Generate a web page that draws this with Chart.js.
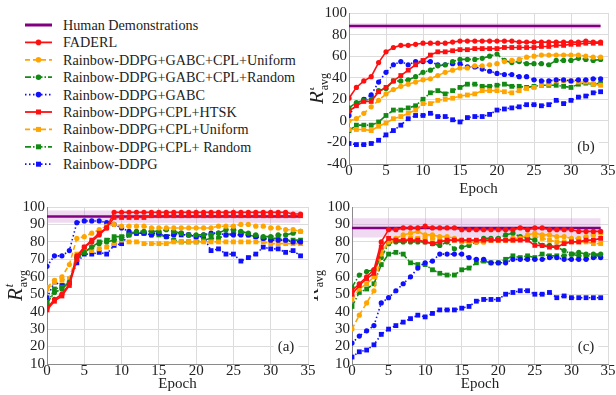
<!DOCTYPE html>
<html>
<head>
<meta charset="utf-8">
<script src="https://cdn.jsdelivr.net/npm/chart.js@4.4.0/dist/chart.umd.min.js"></script>
<style>
body { margin: 0; background: #fff; }
#wrap { position: relative; width: 616px; height: 395px; overflow: hidden; background: #fff; }
canvas, svg { position: absolute; }
#legend text { font-family: 'Liberation Serif', serif; font-size: 14.2px; fill: #222; }
</style>
</head>
<body>
<div id="wrap">
<svg id="legend" width="305" height="185" style="left:0;top:0"></svg>
<canvas id="chartA" width="318" height="199" style="left:0;top:196px"></canvas>
<canvas id="chartC" width="302" height="199" style="left:314px;top:196px"></canvas>
<canvas id="chartB" width="306" height="200" style="left:310px;top:0"></canvas>
</div>
<script>
// epochs 0..34
var epochs = [];
for (let i = 0; i <= 34; i++) epochs.push(i);

var names = ['FADERL', 'Rainbow-DDPG+GABC+CPL+Uniform', 'Rainbow-DDPG+GABC+CPL+Random', 'Rainbow-DDPG+GABC',
    'Rainbow-DDPG+CPL+HTSK', 'Rainbow-DDPG+CPL+Uniform', 'Rainbow-DDPG+CPL+ Random', 'Rainbow-DDPG'];
var humanName = 'Human Demonstrations';

// (a)
var A_FADERL   = [42,47,50,56,72,77,80,84,88,97,97,97,97,97,97,97,97,97,97,97,97,97,97,97,97,97,97,97,97,97,97,97,97,96,96];
var A_GABC_UNI = [54,58,60,67,82,83,85,87,89,90,89,89,89,89,88,88,88,88,88,88,88,88,88,89,89,89,90,90,89,89,88,88,87,87,86];
var A_GABC_RND = [45,51,53,57,71,74,77,79,80,81,82,84,86,86,86,86,87,86,85,84,84,84,84,85,87,87,86,85,84,83,83,84,84,85,86];
var A_GABC     = [66,72,72,75,91,92,92,92,91,90,88,86,85,85,84,85,83,84,85,84,83,84,85,85,84,84,84,84,83,82,81,81,81,80,80];
var A_HTSK     = [41,46,49,55,70,77,81,85,88,94,94,94,94,94,95,95,95,95,95,95,95,95,95,95,95,95,95,95,95,95,95,95,95,95,95];
var A_CPL_UNI  = [53,57,58,59,73,75,75,76,77,79,81,80,80,79,79,79,79,80,80,80,80,80,80,80,80,80,80,80,80,80,79,79,79,79,79];
var A_CPL_RND  = [44,53,54,57,70,74,77,80,81,83,83,85,85,85,84,84,83,81,80,80,80,81,82,82,84,85,85,84,83,82,82,82,81,81,81];
var A_DDPG     = [48,57,55,57,68,73,73,74,73,78,79,84,85,85,85,85,83,85,84,84,83,83,75,76,73,73,69,71,73,77,76,76,74,75,72];
var A_HUMAN = [91, 94.5, 98]; // low, mean, high

// (b)
var B_FADERL   = [21,31,37,41,54,64,68,70,70,71,72,72,72,72,73,74,74,74,74,74,74,74,74,73,73,73,73,73,73,73,73,73,74,73,73];
var B_GABC_UNI = [0,2,7,13,19,25,29,32,34,36,38,39,42,45,47,49,49,51,51,52,53,55,56,57,59,60,61,61,61,61,61,61,60,59,59];
var B_GABC_RND = [12,17,19,20,28,30,37,37,38,41,45,47,51,52,55,57,57,57,58,60,62,56,54,55,53,53,53,52,56,56,56,58,57,56,57];
var B_GABC     = [5,16,20,24,36,45,52,55,52,55,55,55,52,52,53,53,50,50,48,46,44,43,43,41,41,38,37,37,38,38,37,38,38,39,39];
var B_HTSK     = [9,14,18,18,27,31,37,42,47,52,56,61,64,64,65,66,66,67,67,67,67,68,68,68,68,68,69,69,70,70,71,71,72,72,72];
var B_CPL_UNI  = [-8,-8,-8,-9,-5,-2,2,4,7,10,16,16,19,20,21,23,24,25,28,28,28,27,26,28,30,31,33,34,37,37,37,36,36,34,33];
var B_CPL_RND  = [-9,-4,-4,-4,-1,5,10,10,12,14,20,26,28,25,28,31,34,34,32,32,33,34,32,32,31,32,33,33,33,32,31,34,35,34,35];
var B_DDPG     = [-21,-22,-22,-21,-18,-13,-9,-4,2,5,5,7,4,4,1,-1,3,4,4,6,10,11,12,13,15,15,14,15,19,16,19,22,23,26,27];
var B_HUMAN = [85.5, 88, 90.5];

// (c)
var C_FADERL   = [52,56,60,64,80,87,87,88,88,88,89,88,88,88,88,87,87,87,87,87,87,87,87,88,87,88,88,87,87,87,87,86,86,86,86];
var C_GABC_UNI = [30,38,45,52,73,80,82,84,85,86,84,84,83,83,82,81,80,80,80,81,81,81,82,82,84,85,84,84,83,83,82,82,83,84,85];
var C_GABC_RND = [54,61,63,64,71,79,80,80,80,80,80,79,78,80,76,77,78,80,82,82,82,84,85,83,82,81,78,78,77,75,73,74,73,73,73];
var C_GABC     = [22,26,29,32,45,48,52,56,60,65,68,69,73,73,73,73,71,70,70,68,68,68,70,70,70,70,70,71,71,70,70,70,70,71,71];
var C_HTSK     = [50,55,59,62,77,82,81,81,81,81,80,79,80,81,81,81,81,81,81,81,81,81,81,81,81,78,78,77,77,79,80,80,81,81,82];
var C_CPL_UNI  = [47,53,56,60,75,79,81,81,82,82,82,82,81,81,81,80,80,80,80,81,81,81,81,82,82,83,82,81,80,80,80,80,80,79,79];
var C_CPL_RND  = [43,51,53,56,67,73,74,73,68,67,67,64,62,61,61,64,65,68,69,68,68,70,72,71,72,71,73,72,72,72,73,72,72,72,72];
var C_DDPG     = [14,17,18,21,27,30,32,34,36,38,37,39,41,41,41,42,43,46,47,47,47,50,51,52,52,50,50,51,48,49,48,48,48,48,48];
var C_HUMAN = [82.5, 88, 93.5];

// styles, same order as names
var colors = ['#ff1010', '#ffa500', '#138a13', '#1010ff', '#ff1010', '#ffa500', '#138a13', '#1010ff'];
var dashes = [[], [5, 3], [6, 2, 1.5, 2], [1.5, 2.5], [], [5, 3], [6, 2, 1.5, 2], [1.5, 2.5]];
var markers = ['circle', 'circle', 'circle', 'circle', 'rect', 'rect', 'rect', 'rect'];
var FONT = "'Liberation Serif', serif";

function drawLegend() {
    var svg = document.getElementById('legend');
    var html = '';
    var rows = [humanName].concat(names);
    for (let i = 0; i < rows.length; i++) {
        let yc = 25 + 17.4 * i;
        if (i == 0) {
            html += `<line x1="25" x2="52" y1="${yc}" y2="${yc}" stroke="#800080" stroke-width="3"/>`;
        } else {
            let k = i - 1;
            html += `<line x1="25" x2="52" y1="${yc}" y2="${yc}" stroke="${colors[k]}" stroke-width="1.8" stroke-dasharray="${dashes[k].join(' ')}"/>`;
            if (markers[k] == 'circle') html += `<circle cx="38.5" cy="${yc}" r="2.8" fill="${colors[k]}"/>`;
            else html += `<rect x="36" y="${yc - 2.5}" width="5" height="5" fill="${colors[k]}"/>`;
        }
        html += `<text x="63" y="${yc + 5}">${rows[i]}</text>`;
    }
    svg.innerHTML = html;
}

var decor = {
    id: 'decor',
    afterDraw(chart, args, opts) {
        const ctx = chart.ctx, area = chart.chartArea;
        ctx.save();
        // panel letter
        ctx.font = '15px ' + FONT;
        const lw = ctx.measureText(opts.letter).width;
        const cx = area.right - 22, cy = area.bottom - 17;
        ctx.fillStyle = '#fff';
        ctx.fillRect(cx - lw / 2 - 4, cy - 9, lw + 8, 18);
        ctx.fillStyle = '#222';
        ctx.textAlign = 'center';
        ctx.textBaseline = 'middle';
        ctx.fillText(opts.letter, cx, cy);
        // y axis label R^t_avg
        ctx.translate(opts.labelX, (area.top + area.bottom) / 2);
        ctx.rotate(-Math.PI / 2);
        ctx.textAlign = 'left';
        ctx.textBaseline = 'alphabetic';
        ctx.font = 'italic 21px ' + FONT;
        const rw = ctx.measureText('R').width;
        ctx.font = '12px ' + FONT;
        const aw = ctx.measureText('avg').width;
        const x0 = -(rw + 1 + aw) / 2;
        ctx.font = 'italic 21px ' + FONT;
        ctx.fillText('R', x0, 0);
        ctx.font = 'italic 12px ' + FONT;
        ctx.fillText('t', x0 + rw + 1, -9);
        ctx.font = '12px ' + FONT;
        ctx.fillText('avg', x0 + rw + 1, 5);
        ctx.restore();
    }
};

function pts(vals) {
    return epochs.map((e, i) => ({ x: e, y: vals[i] }));
}

function make_chart(id, series, human, y, layout) {
    var datasets = [];
    for (let k = 0; k < series.length; k++) {
        let isRect = markers[k] == 'rect';
        datasets.push({
            label: names[k],
            data: pts(series[k]),
            borderColor: colors[k],
            backgroundColor: colors[k],
            borderWidth: 1.6,
            borderDash: dashes[k],
            pointStyle: markers[k],
            pointRadius: isRect ? 3.4 : 2.6,
            pointBorderWidth: 0,
            pointBackgroundColor: colors[k],
            tension: 0,
            fill: false,
            order: k < 1 ? 0 : (k == 4 ? 1 : k + 2)
        });
    }
    var first = epochs[0], last = epochs[epochs.length - 1];
    datasets.push({
        label: humanName,
        data: [{ x: first, y: human[1] }, { x: last, y: human[1] }],
        borderColor: '#800080', borderWidth: 2.5, pointRadius: 0, fill: false, order: 20
    });
    datasets.push({
        label: 'band low',
        data: [{ x: first, y: human[0] }, { x: last, y: human[0] }],
        borderWidth: 0, borderColor: 'rgba(0,0,0,0)', pointRadius: 0, fill: false, order: 30
    });
    datasets.push({
        label: 'band high',
        data: [{ x: first, y: human[2] }, { x: last, y: human[2] }],
        borderWidth: 0, borderColor: 'rgba(0,0,0,0)', pointRadius: 0,
        fill: '-1', backgroundColor: 'rgba(205,140,215,0.32)', order: 31
    });

    return new Chart(document.getElementById(id), {
        type: 'line',
        data: { datasets: datasets },
        plugins: [decor],
        options: {
            responsive: false,
            animation: false,
            layout: { padding: layout.padding },
            plugins: {
                legend: { display: false },
                tooltip: { enabled: false },
                decor: { letter: layout.letter, labelX: layout.labelX }
            },
            scales: {
                x: {
                    type: 'linear', min: 0, max: 35,
                    ticks: { stepSize: 5, color: '#222', padding: -2, font: { family: FONT, size: 15 } },
                    grid: { color: '#dcdcdc', drawTicks: false },
                    border: { color: '#8a8a8a' },
                    title: { display: true, text: 'Epoch', color: '#222', padding: { top: 0, bottom: 2 }, font: { family: FONT, size: 15 } },
                    afterFit: function (s) { s.height = layout.xh; }
                },
                y: {
                    min: y.min, max: y.max,
                    ticks: { stepSize: y.step, autoSkip: false, color: '#222', padding: 2, font: { family: FONT, size: 15 } },
                    grid: { color: '#dcdcdc', drawTicks: false },
                    border: { color: '#8a8a8a' },
                    afterFit: function (s) { s.width = layout.yw; }
                }
            }
        }
    });
}

function draw_all() {
    drawLegend();
    make_chart('chartA', [A_FADERL, A_GABC_UNI, A_GABC_RND, A_GABC, A_HTSK, A_CPL_UNI, A_CPL_RND, A_DDPG], A_HUMAN,
        { min: 10, max: 100, step: 10 },
        { padding: { top: 11, right: 10, left: 0, bottom: 0 }, yw: 47, xh: 31, letter: '(a)', labelX: 22 });
    make_chart('chartB', [B_FADERL, B_GABC_UNI, B_GABC_RND, B_GABC, B_HTSK, B_CPL_UNI, B_CPL_RND, B_DDPG], B_HUMAN,
        { min: -40, max: 100, step: 20 },
        { padding: { top: 13, right: 8, left: 0, bottom: 0 }, yw: 39, xh: 36, letter: '(b)', labelX: 13 });
    make_chart('chartC', [C_FADERL, C_GABC_UNI, C_GABC_RND, C_GABC, C_HTSK, C_CPL_UNI, C_CPL_RND, C_DDPG], C_HUMAN,
        { min: 10, max: 100, step: 10 },
        { padding: { top: 11, right: 8, left: 0, bottom: 0 }, yw: 38, xh: 31, letter: '(c)', labelX: 4 });
}

Promise.all([
    document.fonts.load("15px 'Liberation Serif'"),
    document.fonts.load("italic 21px 'Liberation Serif'")
]).then(draw_all, draw_all);
</script>
</body>
</html>
